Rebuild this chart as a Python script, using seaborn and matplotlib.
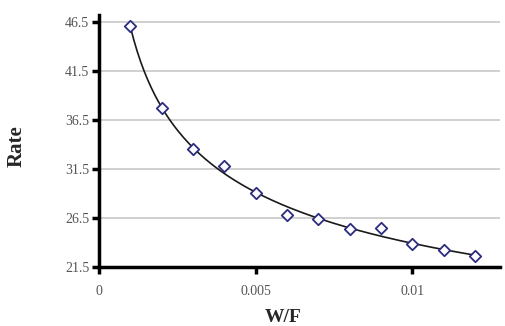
import numpy as np
import pandas as pd
import matplotlib
matplotlib.use('Agg')
import matplotlib.pyplot as plt
import seaborn as sns

# Data
wf = [0.001, 0.002, 0.003, 0.004, 0.005, 0.006, 0.007, 0.008, 0.009, 0.010, 0.011, 0.012]
rate = [46.1, 37.7, 33.5, 31.8, 29.0, 26.8, 26.4, 25.4, 25.5, 23.85, 23.2, 22.6]
y_ticks = [21.5, 26.5, 31.5, 36.5, 41.5, 46.5]
x_ticks = [0, 0.005, 0.01]
x_tick_labels = ['0', '0.005', '0.01']

df = pd.DataFrame({'W/F': wf, 'Rate': rate})

# power-law trendline fitted to the points
b, log_a = np.polyfit(np.log(df['W/F']), np.log(df['Rate']), 1)
xs = np.linspace(min(wf), max(wf), 200)
trend = pd.DataFrame({'W/F': xs, 'Rate': np.exp(log_a) * xs ** b})

sns.set_style('white')
plt.rcParams['font.family'] = ['Liberation Serif', 'DejaVu Serif']

fig = plt.figure(figsize=(5.05, 3.26), dpi=100)
ax = fig.add_axes([0.196, 0.181, 0.794, 0.773])

ax.yaxis.grid(True, color='#c8c8c8', linewidth=1.2)
ax.set_axisbelow(True)

sns.lineplot(data=trend, x='W/F', y='Rate', ax=ax, color='#1a1a1a', linewidth=1.2)
sns.scatterplot(data=df, x='W/F', y='Rate', ax=ax, marker='D', s=34,
                facecolor='white', edgecolor='#2b2b80', linewidth=1.3, zorder=3)

ax.set_xlim(0, 0.0128)
ax.set_ylim(21.5, 47.2)
ax.set_yticks(y_ticks)
ax.set_yticklabels([f'{v:.1f}' for v in y_ticks])
ax.set_xticks(x_ticks)
ax.set_xticklabels(x_tick_labels)

for side in ['top', 'right']:
    ax.spines[side].set_visible(False)
for side in ['left', 'bottom']:
    ax.spines[side].set_linewidth(2.5)
    ax.spines[side].set_color('black')

ax.tick_params(axis='both', which='major', direction='out', length=5, width=2.5,
               color='black', labelsize=10, labelcolor='#555555', left=True, bottom=True)
ax.tick_params(axis='y', pad=2)
ax.tick_params(axis='x', pad=8)

ax.set_xlabel('W/F', fontsize=14, fontweight='bold')
ax.set_ylabel('Rate', fontsize=15, fontweight='bold')
ax.xaxis.set_label_coords(0.46, -0.165)
ax.yaxis.set_label_coords(-0.18, 0.48)

fig.savefig('out.png', dpi=100)
